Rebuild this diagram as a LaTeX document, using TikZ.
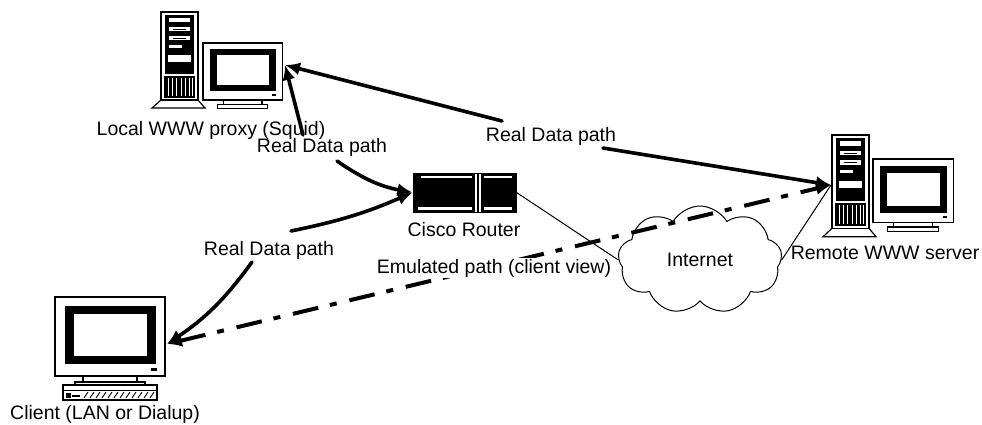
\documentclass[tikz,border=0pt]{standalone}
\usepackage{fontspec}
\setmainfont{Liberation Sans}
\usetikzlibrary{arrows.meta,shapes.symbols}

\tikzset{
  % desktop tower cabinet, origin at its top-left corner
  tower/.pic={
    \draw[line width=1.2pt, fill=white] (0,88) -- (-9,96) -- (44,96) -- (37,88) -- cycle;
    \draw[line width=1.2pt, fill=white] (0,0) rectangle (37,88);
    \fill (4,3) rectangle (33,62);
    \fill[white] (8,6) rectangle (29,10);
    \fill[white] (8,15) rectangle (29,19);
    \draw[line width=0.8pt] (12,17) -- (25,17);
    \fill[white] (8,24) rectangle (29,28);
    \draw[line width=0.8pt] (12,26) -- (25,26);
    \fill[white] (8,33) rectangle (21,36);
    \fill[white] (7,43) rectangle (30,50);
    \fill (3,64) rectangle (34,86);
    \foreach \x in {7,11,15,20,24,28,31}
      \draw[white, line width=0.9pt] (\x,66) -- (\x,84);
  },
  % CRT monitor on its stand, origin at the bezel's top-left corner
  monitor/.pic={
    \draw[line width=1.2pt, fill=white] (20,85) rectangle (90,91);
    \draw[line width=1.2pt, fill=white] (28,79) rectangle (82,85);
    \draw[line width=1.3pt, fill=white] (0,0) rectangle (110,79);
    \fill (10,9) rectangle (101,67);
    \fill[white] (19,17) rectangle (92,59);
    \fill (96,71) rectangle (102,74);
  },
  lbl/.style={font=\fontsize{19.5}{22}\selectfont, inner sep=0pt, anchor=base},
  datapath/.style={line width=3.6pt, line cap=round},
  tip/.style={-{Latex[length=15pt,width=13pt]}},
  emulated/.style={line width=4pt, dash pattern=on 26pt off 12pt on 7pt off 13pt,
    {Latex[length=15pt,width=13pt]}-{Latex[length=15pt,width=13pt]}},
  link/.style={line width=1pt},
}

\begin{document}
\begin{tikzpicture}[x=1pt,y=-1pt]
\useasboundingbox (0,0) rectangle (982,424);

% ---- machines ----
\pic at (161,12) {tower};
\pic[scale=0.72] at (203,43) {monitor};

\pic[yscale=1.06] at (832,135) {tower};
\pic[xscale=0.73,yscale=0.8] at (873,159) {monitor};

\pic at (55,297) {monitor};
% client keyboard
\draw[line width=1.2pt, fill=white] (63,385) rectangle (157,400);
\draw[line width=1pt] (63,390) -- (157,390);
\foreach \x in {84,90,...,150} \draw[line width=0.9pt] (\x,398) -- (\x+4,392);
\fill (66,393) rectangle (71,398);
\draw[line width=1.6pt] (72,396) -- (80,396);

% connection points on the machines
\coordinate (proxyIn) at (285,65);
\coordinate (serverIn) at (831,185);
\coordinate (clientIn) at (167,344);

% ---- router ----
\node[draw, fill=black, line width=1pt, minimum width=103pt, minimum height=39pt,
      inner sep=0pt] (router) at (464.5,192.5) {};
\fill[white] (421,175.5) rectangle (472,178);
\fill[white] (418,207) rectangle (472,209.5);
\fill[white] (484,175.5) rectangle (512,178);
\fill[white] (484,207) rectangle (512,209.5);
\fill[white] (474.5,173.5) rectangle (481,211.5);
\fill (477,173.5) rectangle (478.5,211.5);

% ---- internet cloud ----
\node[cloud, draw, line width=1pt, cloud puffs=9, cloud puff arc=120, aspect=1.55,
      minimum width=164pt, minimum height=108pt, inner sep=0pt,
      font=\fontsize{19.5}{22}\selectfont] (inet) at (700,260) {Internet};

% ---- labels ----
\node[lbl] (lblProxy)  at (211,135) {Local WWW proxy (Squid)};
\node[lbl] (rdpProxy)  at (322,152) {Real Data path};
\node[lbl] (rdpRemote) at (551,141) {Real Data path};
\node[lbl] (rdpClient) at (269,255) {Real Data path};
\node[lbl] (lblRouter) at (464,236) {Cisco Router};
\node[lbl] (lblRemote) at (885,259) {Remote WWW server};
\node[lbl] (lblClient) at (105,419) {Client (LAN or Dialup)};

% free ends of the data paths next to their labels
\coordinate (a1) at (502,121);
\coordinate (a2) at (603,148);
\coordinate (b1) at (303,135);
\coordinate (b2) at (337,161);
\coordinate (c1) at (291,231);
\coordinate (c2) at (252,262);

% ---- links ----
\draw[link] (router.east) -- (inet.west);
\draw[link] (inet.east) -- (serverIn);

% ---- real data paths ----
\draw[datapath, tip] (a1) -- (proxyIn);
\draw[datapath, tip] (a2) -- (serverIn);
\draw[datapath, tip] (b1) -- (proxyIn);
\draw[datapath, tip] (b2) to[bend right=12] (router.west);
\draw[datapath, tip] (c1) to[bend right=6] (router.west);
\draw[datapath, tip] (c2) to[bend left=10] (clientIn);

% ---- emulated path ----
\draw[emulated] (clientIn) -- (serverIn);
\node[lbl, fill=white, inner sep=1pt] (emul) at (494,273) {Emulated path (client view)};

\end{tikzpicture}
\end{document}
